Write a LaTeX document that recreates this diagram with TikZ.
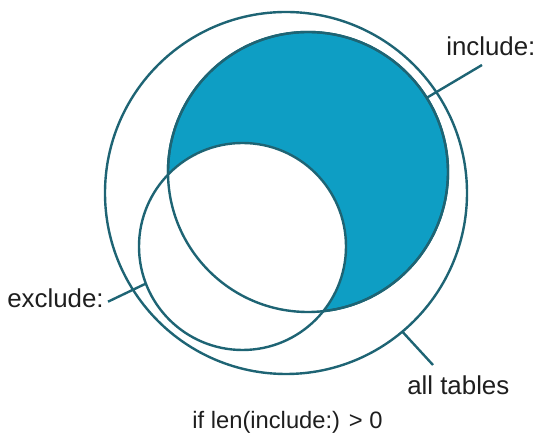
\documentclass[tikz,border=0pt]{standalone}
\usepackage{fontspec}
\setmainfont{Liberation Sans}
\definecolor{edgecol}{RGB}{30,100,116}
\definecolor{incfill}{RGB}{14,158,196}
\definecolor{txtcol}{RGB}{30,30,30}
\begin{document}
\begin{tikzpicture}[x=0.75pt,y=-0.75pt,
  ring/.style={circle,draw=edgecol,line width=1.8pt,inner sep=0pt,outer sep=0pt},
  edge/.style={draw=edgecol,line width=1.8pt},
  lab/.style={text=txtcol,inner sep=0pt,font=\fontsize{19.4}{22}\selectfont},
  cond/.style={text=txtcol,inner sep=0pt,font=\fontsize{17.8}{21}\selectfont}]
\useasboundingbox (0,0) rectangle (540,434);
\node[ring,minimum size=271.5pt] (all) at (286,193) {};
\node[ring,fill=incfill,minimum size=210pt] (inc) at (308,172) {};
\node[ring,fill=white,minimum size=155.25pt] (exc) at (242.5,246.5) {};
\draw[edge] (inc.center) circle[radius=105pt];
\node[lab,anchor=base west] (inclab) at (446,56) {include:};
\node[lab,anchor=base west] (exclab) at (7,308) {exclude:};
\node[lab,anchor=base west] (alllab) at (407,395) {all tables};
\node[cond,anchor=base] (condlab) at (287.5,429) {if len(include:) > 0};
\coordinate (incend) at (482,65);
\coordinate (excend) at (108,301.7);
\coordinate (allend) at (433,365);
\draw[edge] (incend) -- (inc.32);
\draw[edge] (excend) -- (exc.201.5);
\draw[edge] (all.-50.3) -- (allend);
\end{tikzpicture}
\end{document}
